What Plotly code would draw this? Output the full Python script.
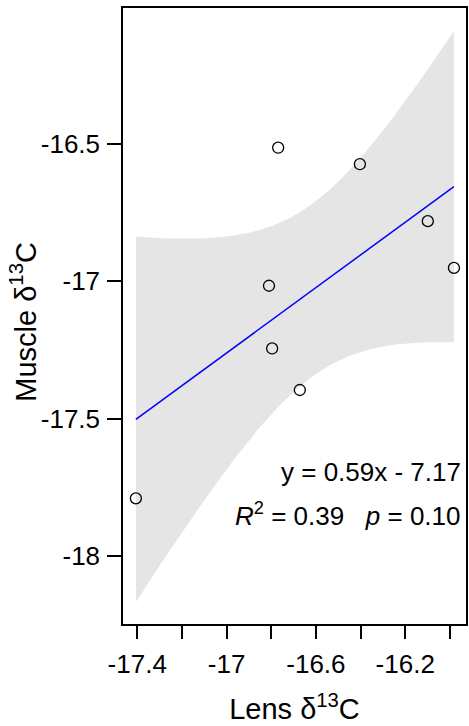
import numpy as np
import plotly.graph_objects as go

lens = [-16.769, -16.403, -16.099, -15.982, -16.810, -16.796, -16.672, -17.406]
muscle = [-16.515, -16.575, -16.782, -16.952, -17.017, -17.245, -17.396, -17.790]
eq_text = "y = 0.59x - 7.17"
stat_text = "<i>R</i><sup>2</sup>\u00a0= 0.39\u00a0\u00a0\u00a0<i>p</i> = 0.10"
x_title = "Lens δ<sup>13</sup>C"
y_title = "Muscle δ<sup>13</sup>C"
x_ticks = [-17.4, -17.0, -16.6, -16.2]
x_ticklabels = ["-17.4", "-17", "-16.6", "-16.2"]
y_ticks = [-16.5, -17.0, -17.5, -18.0]
y_ticklabels = ["-16.5", "-17", "-17.5", "-18"]

x = np.array(lens)
y = np.array(muscle)
n = len(x)
slope, intercept = np.polyfit(x, y, 1)
xs = np.linspace(x.min(), x.max(), 80)
fit = slope * xs + intercept
resid = y - (slope * x + intercept)
s = np.sqrt(np.sum(resid**2) / (n - 2))
sxx = np.sum((x - x.mean())**2)
tval = 2.446912
se = s * np.sqrt(1.0 / n + (xs - x.mean())**2 / sxx)
upper = fit + tval * se
lower = fit - tval * se

FONT = "Liberation Sans, Arial, sans-serif"
fig = go.Figure()
fig.add_trace(go.Scatter(
    x=np.concatenate([xs, xs[::-1]]), y=np.concatenate([upper, lower[::-1]]),
    fill="toself", fillcolor="#E5E5E5", line=dict(width=0), mode="lines",
    hoverinfo="skip", showlegend=False))
fig.add_trace(go.Scatter(x=xs, y=fit, mode="lines",
                         line=dict(color="#0000FF", width=1.5), showlegend=False))
fig.add_trace(go.Scatter(x=lens, y=muscle, mode="markers",
                         marker=dict(symbol="circle-open", size=11,
                                     color="black", line=dict(width=1.3)),
                         showlegend=False))

fig.add_annotation(xref="paper", yref="paper", x=0.99, y=0.219,
                   xanchor="right", yanchor="bottom", text=eq_text,
                   showarrow=False, font=dict(size=26, color="black", family=FONT))
fig.add_annotation(xref="paper", yref="paper", x=0.99, y=0.148,
                   xanchor="right", yanchor="bottom", text=stat_text,
                   showarrow=False, font=dict(size=26, color="black", family=FONT))
fig.add_annotation(xref="paper", yref="paper", x=-0.29, y=0.49,
                   xanchor="center", yanchor="middle", text=y_title, textangle=-90,
                   showarrow=False, font=dict(size=29, color="black", family=FONT))

fig.update_layout(
    width=469, height=726,
    margin=dict(l=123, r=1, t=8, b=102),
    paper_bgcolor="white", plot_bgcolor="white",
    font=dict(family=FONT, color="black", size=26),
    xaxis=dict(range=[-17.4636, -15.928], tickvals=x_ticks, ticktext=x_ticklabels,
               showgrid=False, zeroline=False, showline=True, mirror=True,
               linecolor="black", linewidth=1.5, ticks="outside", ticklen=13,
               tickwidth=1.5, tickcolor="black", tickfont=dict(size=26),
               ticklabelstandoff=3,
               minor=dict(tick0=-17.4, dtick=0.2, ticks="outside", ticklen=13,
                          tickwidth=1.5, tickcolor="black", showgrid=False),
               title=dict(text=x_title, font=dict(size=29), standoff=21)),
    yaxis=dict(range=[-18.247, -16.007], tickvals=y_ticks, ticktext=y_ticklabels,
               showgrid=False, zeroline=False, showline=True, mirror=True,
               linecolor="black", linewidth=1.5, ticks="outside", ticklen=14,
               tickwidth=1.5, tickcolor="black", tickfont=dict(size=26),
               ticklabelstandoff=2),
)
fig.write_html("out.html")
